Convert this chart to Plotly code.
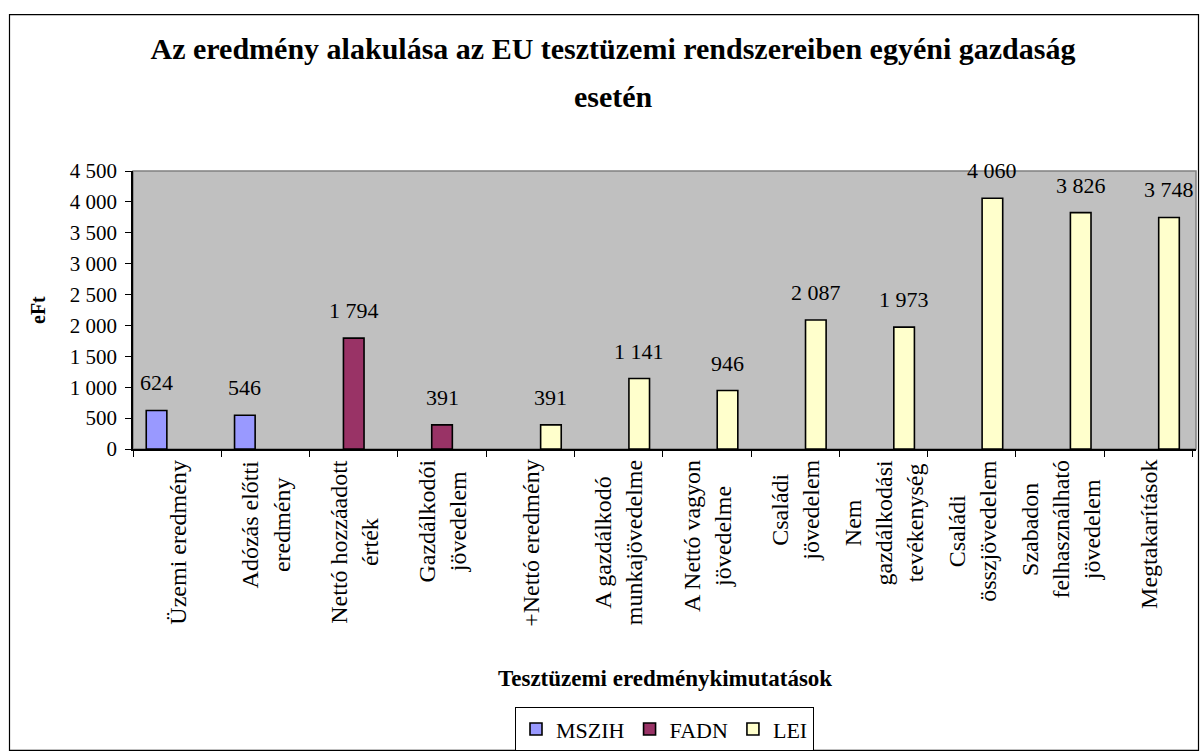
import plotly.graph_objects as go

categories = [
    "Üzemi eredmény",
    "Adózás előtti<br>eredmény",
    "Nettó hozzáadott<br>érték",
    "Gazdálkodói<br>jövedelem",
    "+Nettó eredmény",
    "A gazdálkodó<br>munkajövedelme",
    "A Nettó vagyon<br>jövedelme",
    "Családi<br>jövedelem",
    "Nem<br>gazdálkodási<br>tevékenység",
    "Családi<br>összjövedelem",
    "Szabadon<br>felhasználható<br>jövedelem",
    "Megtakarítások",
]
mszih = [624, 546, None, None, None, None, None, None, None, None, None, None]
fadn = [None, None, 1794, 391, None, None, None, None, None, None, None, None]
lei = [None, None, None, None, 391, 1141, 946, 2087, 1973, 4060, 3826, 3748]
series_names = ["MSZIH", "FADN", "LEI"]
series_colors = ["#9999FF", "#993366", "#FFFFCC"]
y_ticks = [0, 500, 1000, 1500, 2000, 2500, 3000, 3500, 4000, 4500]
title_line1 = "Az eredmény alakulása az EU tesztüzemi rendszereiben egyéni gazdaság"
title_line2 = "esetén"
y_title = "eFt"
x_title = "Tesztüzemi eredménykimutatások"

FONT = "Liberation Serif, Times New Roman, serif"
W, H = 1200, 756
L, R, T, B = 133, 4, 171, 305
pw, ph = W - L - R, H - T - B

def fmt(v):
    return f"{v:,}".replace(",", " ")

def px_x(p):
    return (p - L) / pw

def px_y(p):
    return (H - B - p) / ph

BARGAP = 0.3
fig = go.Figure()
all_series = [mszih, fadn, lei]
for name, vals, col in zip(series_names, all_series, series_colors):
    fig.add_trace(go.Bar(
        name=name, x=categories, y=vals,
        marker=dict(color=col, line=dict(color="black", width=1.6)),
    ))

annotations = []
bw = (1 - BARGAP) / 3
for s, vals in enumerate(all_series):
    for i, v in enumerate(vals):
        if v is None:
            continue
        annotations.append(dict(
            x=i + (s - 1) * bw, y=v, xref="x", yref="y",
            text=fmt(v), showarrow=False, yanchor="bottom", yshift=13,
            font=dict(family=FONT, size=22, color="black"),
        ))

# category labels (rotated, centred lines)
for i, c in enumerate(categories):
    annotations.append(dict(
        x=i, y=0, xref="x", yref="paper", text=c, textangle=-90,
        align="center", xanchor="center", yanchor="top", yshift=-9,
        showarrow=False, font=dict(family=FONT, size=24, color="black"),
    ))

annotations.append(dict(
    x=px_x(38), y=0.5, xref="paper", yref="paper", text=f"<b>{y_title}</b>",
    xanchor="center", yanchor="middle",
    textangle=-90, showarrow=False, font=dict(family=FONT, size=20, color="black"),
))
annotations.append(dict(
    x=0.5, y=px_y(682), xref="paper", yref="paper",
    xanchor="center", yanchor="middle",
    text=f"<b>{x_title}</b>",
    showarrow=False, font=dict(family=FONT, size=23, color="black"),
))
annotations.append(dict(
    x=px_x(613), y=px_y(107), xref="paper", yref="paper",
    xanchor="center", yanchor="bottom", yshift=-8,
    text=f"<b>{title_line2}</b>",
    showarrow=False, font=dict(family=FONT, size=30, color="black"),
))

shapes = [
    dict(type="rect", xref="paper", yref="paper", x0=0, x1=1, y0=0, y1=1,
         line=dict(color="#808080", width=1.5), layer="below"),
    dict(type="rect", xref="paper", yref="paper",
         x0=px_x(9.5), x1=px_x(1198.5), y0=px_y(754.5), y1=px_y(13.5),
         line=dict(color="black", width=1.2)),
]

fig.update_layout(
    width=W, height=H,
    margin=dict(l=L, r=R, t=T, b=B, pad=0),
    paper_bgcolor="white", plot_bgcolor="#C0C0C0",
    barmode="group", bargap=BARGAP, bargroupgap=0,
    separators=", ",
    font=dict(family=FONT, color="black"),
    title=dict(
        text=f"<b>{title_line1}</b>",
        x=613 / W, xanchor="center", xref="container",
        y=1 - 38 / H, yanchor="top", yref="container",
        font=dict(family=FONT, size=30, color="black"),
    ),
    showlegend=True,
    legend=dict(
        orientation="h", x=0.5, xanchor="center", y=px_y(711), yanchor="top",
        bordercolor="black", borderwidth=1, bgcolor="white",
        font=dict(family=FONT, size=22, color="black"),
        itemwidth=30, traceorder="normal",
    ),
    annotations=annotations,
    shapes=shapes,
)
fig.update_xaxes(
    type="category", showline=True, linecolor="black", linewidth=1.5,
    ticks="outside", tickson="boundaries", ticklen=6, tickcolor="black",
    showticklabels=False, showgrid=False, zeroline=False,
)
fig.update_yaxes(
    range=[0, 4500], tickvals=y_ticks, tickformat=",d",
    showline=True, linecolor="black", linewidth=1.5,
    ticks="outside", ticklen=6, tickcolor="black", ticklabelstandoff=4,
    tickfont=dict(family=FONT, size=21, color="black"),
    showgrid=False, zeroline=False,
)

fig.write_html("out.html", config={"displayModeBar": False},
               post_script="document.body.style.margin='0';")
